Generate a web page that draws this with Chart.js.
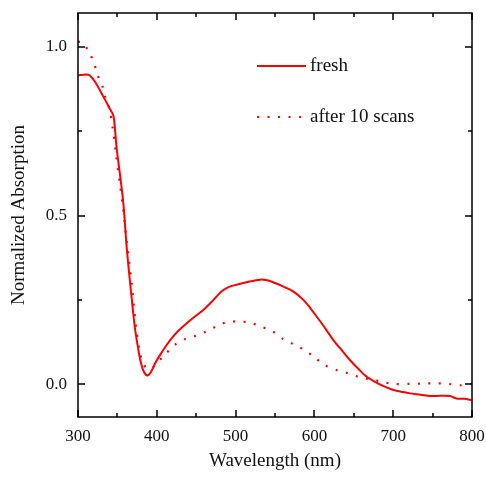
<!DOCTYPE html>
<html>
<head>
<meta charset="utf-8">
<script src="https://cdn.jsdelivr.net/npm/chart.js@4"></script>
<style>
  html, body { margin: 0; padding: 0; background: #fff; }
  #wrap { width: 486px; height: 479px; }
</style>
</head>
<body>
<div id="wrap"><canvas id="chart" width="486" height="479"></canvas></div>
<script>
// data
const freshWl = [300, 310, 315, 322, 332, 340, 345, 349, 353, 357.5, 362, 367, 372, 376, 379, 383, 388, 393, 398, 405,
    412, 419, 428, 438, 448, 459, 470, 482, 491, 501, 515, 531, 540, 550, 560, 573, 586, 595, 603, 614,
    624, 635, 645, 656, 666, 677, 687, 700, 710, 721, 735, 747, 760, 772, 780, 790, 800];
const freshAbs = [0.915, 0.918, 0.915, 0.895, 0.853, 0.818, 0.795, 0.70, 0.626, 0.537, 0.40, 0.28, 0.171, 0.11, 0.072, 0.04, 0.026, 0.038, 0.063, 0.09,
    0.115, 0.137, 0.16, 0.181, 0.20, 0.22, 0.245, 0.275, 0.288, 0.295, 0.303, 0.31, 0.308, 0.30, 0.29, 0.275, 0.25, 0.225, 0.20, 0.165,
    0.131, 0.10, 0.072, 0.045, 0.023, 0.007, -0.005, -0.017, -0.022, -0.027, -0.031, -0.035, -0.034, -0.035, -0.042, -0.043, -0.047];

const scanWl = [300, 306, 315, 321, 325, 331, 334, 340, 344, 348, 353, 357.5, 362, 368, 373.6, 378.7, 383, 389, 395, 400,
    410, 423, 436, 450, 463, 475, 489, 503, 517, 532, 546, 559, 573, 587, 600, 613, 628, 642, 657, 670,
    685, 699, 720, 740, 756, 770, 785, 800];
const scanAbs = [1.015, 1.012, 0.98, 0.947, 0.915, 0.883, 0.855, 0.815, 0.76, 0.685, 0.596, 0.517, 0.42, 0.30, 0.171, 0.092, 0.06, 0.045, 0.05, 0.062,
    0.087, 0.117, 0.134, 0.144, 0.157, 0.171, 0.184, 0.186, 0.183, 0.171, 0.158, 0.136, 0.119, 0.102, 0.08, 0.057, 0.042, 0.033, 0.021, 0.015,
    0.008, 0.001, 0.001, 0.002, 0.003, 0.001, -0.003, 0.001];

const xTicks = [300, 400, 500, 600, 700, 800];
const yTicks = [0.0, 0.5, 1.0];
const seriesNames = ['fresh', 'after 10 scans'];

const FONT = 'Liberation Serif, Times New Roman, serif';

const toPoints = (xs, ys) => xs.map((v, i) => ({ x: v, y: ys[i] }));

// no extra room for overhanging tick labels, layout padding does it
function noScalePadding(s) {
    s.paddingLeft = 0; s.paddingRight = 0; s.paddingTop = 0; s.paddingBottom = 0;
}

// box frame with inward ticks on all four sides
const boxTicks = {
    id: 'boxTicks',
    afterDraw(chart) {
        const { ctx, chartArea: a, scales: { x, y } } = chart;
        ctx.save();
        ctx.strokeStyle = '#000';
        ctx.lineWidth = 1.5;
        ctx.strokeRect(a.left, a.top, a.right - a.left, a.bottom - a.top);
        ctx.beginPath();
        for (let v = xTicks[0]; v <= xTicks[xTicks.length - 1]; v += 50) {
            const px = Math.round(x.getPixelForValue(v));
            const len = xTicks.includes(v) ? 7 : 4;
            ctx.moveTo(px, a.bottom); ctx.lineTo(px, a.bottom - len);
            ctx.moveTo(px, a.top); ctx.lineTo(px, a.top + len);
        }
        for (let v = 0; v <= 1.0001; v += 0.25) {
            const py = Math.round(y.getPixelForValue(v));
            const len = (Math.abs(v * 2 - Math.round(v * 2)) < 1e-6) ? 7 : 4;
            ctx.moveTo(a.left, py); ctx.lineTo(a.left + len, py);
            ctx.moveTo(a.right, py); ctx.lineTo(a.right - len, py);
        }
        ctx.stroke();
        ctx.restore();
    }
};

// legend drawn inside the plot
const insideLegend = {
    id: 'insideLegend',
    afterDraw(chart) {
        const ctx = chart.ctx;
        const rows = [66, 117];
        ctx.save();
        chart.data.datasets.forEach((ds, i) => {
            const yy = rows[i];
            ctx.strokeStyle = ds.borderColor;
            ctx.lineWidth = ds.borderWidth;
            ctx.setLineDash(ds.borderDash || []);
            ctx.beginPath();
            ctx.moveTo(257, yy); ctx.lineTo(306, yy);
            ctx.stroke();
            ctx.setLineDash([]);
            ctx.fillStyle = '#111';
            ctx.font = '19px ' + FONT;
            ctx.textBaseline = 'middle';
            ctx.fillText(ds.label, 310, yy);
        });
        ctx.restore();
    }
};

new Chart(document.getElementById('chart'), {
    type: 'line',
    data: {
        datasets: [
            { label: seriesNames[0], data: toPoints(freshWl, freshAbs), borderColor: '#ff0000', borderWidth: 2, pointRadius: 0, tension: 0.3 },
            { label: seriesNames[1], data: toPoints(scanWl, scanAbs), borderColor: '#ff0000', borderWidth: 2.2, borderDash: [2, 8.5], pointRadius: 0, tension: 0.3 }
        ]
    },
    options: {
        responsive: false,
        animation: false,
        layout: { padding: { top: 13, right: 14, left: 0, bottom: 0 } },
        plugins: { legend: { display: false }, tooltip: { enabled: false } },
        scales: {
            x: {
                type: 'linear',
                min: 300, max: 800,
                afterFit: s => { s.height = 62; noScalePadding(s); },
                afterBuildTicks: s => { s.ticks = xTicks.map(v => ({ value: v })); },
                grid: { display: false, drawTicks: false },
                border: { display: false },
                ticks: { padding: 9, color: '#111', font: { family: FONT, size: 17 } },
                title: { display: true, text: 'Wavelength (nm)', color: '#111', font: { family: FONT, size: 19 }, padding: { top: 2, bottom: 7 } }
            },
            y: {
                min: -0.097, max: 1.1,
                afterFit: s => { s.width = 78; noScalePadding(s); },
                afterBuildTicks: s => { s.ticks = yTicks.map(v => ({ value: v })); },
                grid: { display: false, drawTicks: false },
                border: { display: false },
                ticks: { padding: 11, color: '#111', font: { family: FONT, size: 17 }, callback: v => v.toFixed(1) },
                title: { display: true, text: 'Normalized Absorption', color: '#111', font: { family: FONT, size: 19 }, padding: { top: 8, bottom: 0 } }
            }
        }
    },
    plugins: [boxTicks, insideLegend]
});
</script>
</body>
</html>
